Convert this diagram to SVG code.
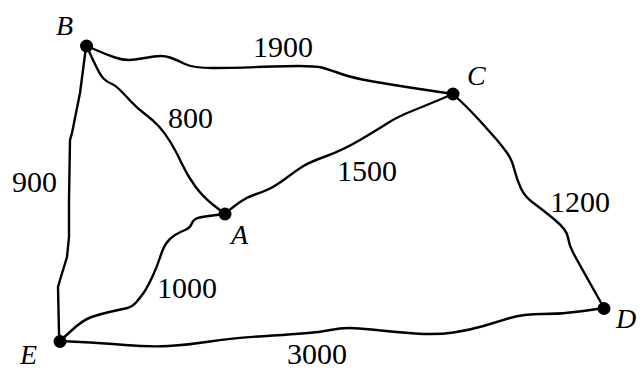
<svg xmlns="http://www.w3.org/2000/svg" width="641" height="370" viewBox="0 0 641 370">
<style>
.e{fill:none;stroke:#000;stroke-width:2.4;stroke-linejoin:round;stroke-linecap:round}
.n{fill:#000}
.w{font-family:"Liberation Serif","Times New Roman",serif;font-size:30px;fill:#000;text-anchor:middle}
.l{font-family:"Liberation Serif","Times New Roman",serif;font-size:28px;font-style:italic;fill:#000}
</style>
<rect width="641" height="370" fill="#fff"/>
<g id="connectors">
<path id="BC" class="e" d="M87,46 L96,50 Q105,54 115,57.5 Q125,61 135,59.5 Q145,58 154,56.5 Q163,55 170,57.5 Q177,60 185,64 Q193,68 213,68 Q233,68 273,66.5 Q313,65 321.5,67.5 Q330,70 341.5,74 Q353,78 373,81.5 Q393,85 423,89.5 L453,94"/>
<path id="BA" class="e" d="M87,47 L93.5,61 Q100,75 103.5,78.5 Q107,82 111,83.5 Q115,85 120,90 Q125,95 131,101.5 Q137,108 145,114 Q153,120 159,126.5 Q165,133 171,143 Q177,153 182,164 Q187,175 195,186 Q203,197 214,205.5 L225,214"/>
<path id="BE" class="e" d="M86,47 L80,93 L72,133 L70,140 L69,200 L69,237 L67,257 L60,280 L58,287 L59,333 L60,341"/>
<path id="AC" class="e" d="M225,214 L229,210.5 Q233,207 240,202 Q247,197 255,194.5 Q263,192 270,188.5 Q277,185 287,177.5 Q297,170 303.5,166 Q310,162 326.5,156 Q343,150 360,140 Q377,130 387,123.5 Q397,117 412,111 Q427,105 440,99.5 L453,94"/>
<path id="AE" class="e" d="M225,214 L212.5,215.5 Q200,217 196.5,218.5 Q193,220 191.5,224 Q190,228 185,230 Q180,232 175,235 Q170,238 166.5,243 Q163,248 160,257.5 Q157,267 152,277.5 Q147,288 143.5,293 Q140,298 136,302.5 Q132,307 127.5,308 Q123,309 111.5,311.5 Q100,314 91.5,317 Q83,320 71.5,330.5 L60,341"/>
<path id="ED" class="e" d="M60,341 L80,342 Q100,343 125,345 Q150,347 168.5,346 Q187,345 210,341.5 Q233,338 273,335.5 Q313,333 321.5,331.5 Q330,330 340,328.5 Q350,327 371.5,329.5 Q393,332 415,333.5 Q437,335 453.5,332.5 Q470,330 483.5,326 Q497,322 510,318 Q523,314 543,314 Q563,314 583.5,311 L604,308"/>
<path id="CD" class="e" d="M453,94 L461.5,102 Q470,110 480,121 Q490,132 496.5,139.5 Q503,147 507.5,153.5 Q512,160 514.5,170 Q517,180 521,188.5 Q525,197 534,203.5 Q543,210 555,220 Q567,230 568,237.5 Q569,245 573,252.5 Q577,260 590.5,284 L604,308"/>
<text class="w" x="283" y="57">1900</text>
<text class="w" x="190.5" y="128">800</text>
<text class="w" x="34.5" y="192">900</text>
<text class="w" x="367" y="181">1500</text>
<text class="w" x="580" y="212">1200</text>
<text class="w" x="187" y="298">1000</text>
<text class="w" x="317" y="364">3000</text>
</g>
<g id="B"><circle class="n" cx="86.5" cy="46" r="6.5"/><text class="l" x="56" y="35">B</text></g>
<g id="C"><circle class="n" cx="453" cy="94" r="6.5"/><text class="l" x="467" y="85">C</text></g>
<g id="A"><circle class="n" cx="225" cy="214" r="6.5"/><text class="l" x="231" y="244">A</text></g>
<g id="E"><circle class="n" cx="60" cy="341.5" r="6.5"/><text class="l" x="20" y="364">E</text></g>
<g id="D"><circle class="n" cx="604" cy="308.5" r="6.5"/><text class="l" x="616" y="328">D</text></g>
</svg>
